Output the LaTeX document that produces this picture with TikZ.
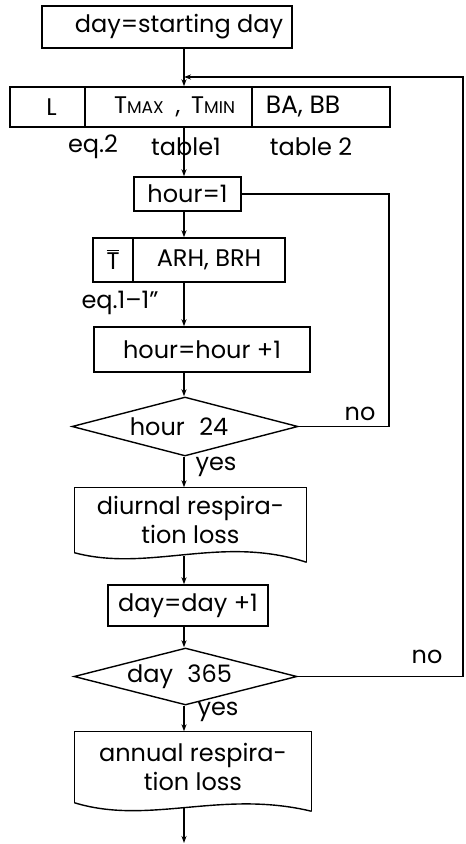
\documentclass[tikz,border=0pt]{standalone}
\usepackage{fontspec}
\setmainfont{Poppins}
\usetikzlibrary{shapes.geometric,arrows.meta,calc}
\newcommand\barT{\leavevmode\vbox{\hrule height 1.3pt\kern1.8pt\hbox{T}}}
\begin{document}
\begin{tikzpicture}[x=1pt,y=-1pt,
  line width=1.4pt,
  every node/.style={font=\fontsize{24}{29}\selectfont},
  box/.style={draw,inner sep=0pt,rectangle},
  dia/.style={draw,diamond,inner sep=0pt,shape aspect=3.8},
  lbl/.style={inner sep=0pt},
  arr/.style={-{Stealth[length=7pt,width=5pt]}}
]
\useasboundingbox (0,0) rectangle (466,844);
\coordinate (ax) at (184,0);
\coordinate (rx) at (463,0);
\coordinate (lx) at (389,0);
\coordinate (fb) at (184,77);

\node[box,minimum width=250pt,minimum height=42pt] (start) at (167,27) {\hspace*{24pt}day=starting day};

\node[box,minimum width=75pt,minimum height=40pt] (rL) at (47.5,107) {\hspace*{8pt}L};
\node[box,minimum width=167pt,minimum height=40pt] (rT) at (168.5,107)
  {\hspace*{12pt}T{\fontsize{17}{19}\selectfont MAX}\hspace{0.5em},\hspace{0.45em}T{\fontsize{17}{19}\selectfont MIN}};
\node[box,minimum width=138pt,minimum height=40pt] (rB) at (321,107) {\fontsize{25}{29}\selectfont BA, BB\hspace*{36pt}};

\node[lbl] (eq2) at (93,147) {eq.2};
\node[lbl] (tab1) at (186,147) {table1};
\node[lbl] (tab2) at (311,147) {table 2};

\node[box,minimum width=107pt,minimum height=34pt] (h1) at (187.5,194) {hour=1};

\node[box,minimum width=40pt,minimum height=44pt] (tT) at (113,260) {\barT};
\node[box,minimum width=152pt,minimum height=44pt] (tA) at (209,260) {ARH, BRH};

\node[lbl] (eqlab) at (120,303) {eq.1--1"};

\node[box,minimum width=216pt,minimum height=45pt] (hp) at (202,349.5) {hour=hour +1};

\node[dia,minimum width=226pt,minimum height=59pt] (d1) at (185,426.5) {hour\hspace{0.6em}24\hspace*{12pt}};
\node[lbl] (no1) at (360,414) {no};
\node[lbl] (yes1) at (216,467) {yes};

\node[inner sep=0pt,minimum width=231pt,minimum height=64pt,align=center] (dl) at (190.5,520)
  {diurnal respira-\\tion loss};
\draw (dl.south west) -- (dl.north west) -- (dl.north east) -- ++(0,75) coordinate (dlr);
\draw (dl.south west) .. controls ++(75,20) and ($(dlr)+(-86,-28)$) .. (dlr);
\coordinate (dlb) at (184,556);

\node[box,minimum width=160pt,minimum height=41pt] (dd) at (188,605.5) {day=day +1};

\node[dia,minimum width=223pt,minimum height=57pt] (d2) at (185.5,676.5) {day\hspace{0.6em}365\hspace*{12pt}};
\node[lbl] (no2) at (427,657) {no};
\node[lbl] (yes2) at (218,712) {yes};

\node[inner sep=0pt,minimum width=236pt,minimum height=70pt,align=center] (an) at (193,767)
  {annual respira-\\tion loss};
\draw (an.south west) -- (an.north west) -- (an.north east) -- ++(0,80) coordinate (anr);
\draw (an.south west) .. controls ++(75,23) and ($(anr)+(-91,-22)$) .. (anr);
\coordinate (anb) at (184,808);
\coordinate (endp) at (184,843);

% connectors
\draw[arr] (start.south -| ax) -- (rT.north -| ax);
\draw[arr] (d2.east) -- (d2.east -| rx) -- (rx |- fb) -- (fb);
\draw[arr] (rT.south -| ax) -- (h1.north -| ax);
\draw[arr] (h1.south -| ax) -- (tA.north -| ax);
\draw[arr] (tA.south -| ax) -- (hp.north -| ax);
\draw[arr] (hp.south -| ax) -- (d1.north -| ax);
\draw (d1.east) -- (d1.east -| lx) -- (lx |- h1.east) -- (h1.east);
\draw[arr] (d1.south -| ax) -- (dl.north -| ax);
\draw[arr] (dlb) -- (dd.north -| ax);
\draw[arr] (dd.south -| ax) -- (d2.north -| ax);
\draw[arr] (d2.south -| ax) -- (an.north -| ax);
\draw[arr] (anb) -- (endp);
\end{tikzpicture}
\end{document}
